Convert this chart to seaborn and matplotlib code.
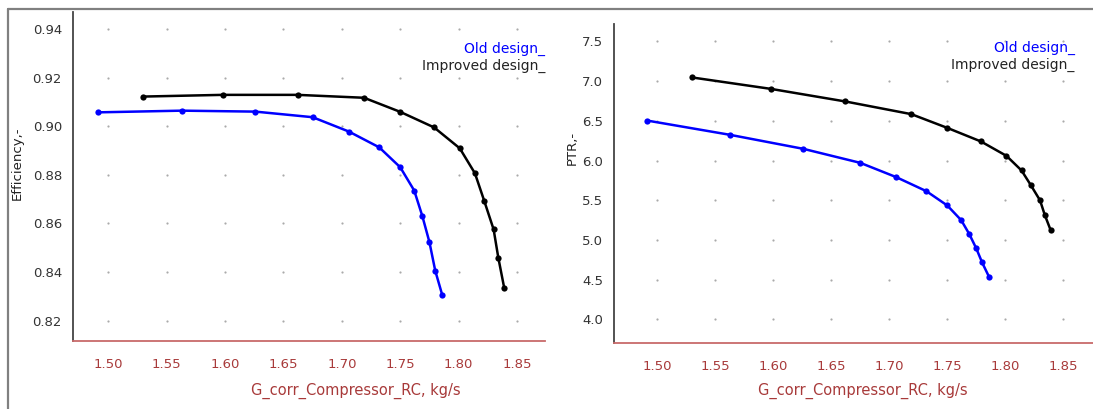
import numpy as np
import pandas as pd
import matplotlib.pyplot as plt
import seaborn as sns
from matplotlib.lines import Line2D

# Mass flow (kg/s) for each operating point
flow_old = [1.491, 1.563, 1.626, 1.675, 1.706, 1.732, 1.750, 1.762, 1.769, 1.775, 1.780, 1.786]
flow_new = [1.530, 1.598, 1.662, 1.719, 1.750, 1.779, 1.801, 1.814, 1.822, 1.830, 1.834, 1.839]

eff_old = [0.9057, 0.9064, 0.9060, 0.9037, 0.8978, 0.8913, 0.8831, 0.8735, 0.8629, 0.8523, 0.8405, 0.8305]
eff_new = [0.9122, 0.9129, 0.9129, 0.9117, 0.9059, 0.8995, 0.8909, 0.8806, 0.8692, 0.8575, 0.8459, 0.8336]

ptr_old = [6.505, 6.324, 6.148, 5.972, 5.792, 5.615, 5.435, 5.250, 5.074, 4.894, 4.718, 4.536]
ptr_new = [7.047, 6.903, 6.745, 6.585, 6.412, 6.241, 6.060, 5.876, 5.691, 5.498, 5.317, 5.128]

designs = ['Old design', 'Improved design']
palette = {'Old design': '#0000ff', 'Improved design': '#000000'}

x_ticks = [1.50, 1.55, 1.60, 1.65, 1.70, 1.75, 1.80, 1.85]
eff_ticks = [0.82, 0.84, 0.86, 0.88, 0.90, 0.92, 0.94]
ptr_ticks = [4.0, 4.5, 5.0, 5.5, 6.0, 6.5, 7.0, 7.5]

df = pd.DataFrame({
    'flow': flow_old + flow_new,
    'eff': eff_old + eff_new,
    'ptr': ptr_old + ptr_new,
    'design': [designs[0]] * len(flow_old) + [designs[1]] * len(flow_new),
})

sns.set_style('white')
plt.rcParams['font.family'] = ['DejaVu Sans']

RED_AX = '#c86a6a'
RED_TXT = '#a83a3a'
GREY_TXT = '#333333'

fig = plt.figure(figsize=(10.93, 4.09), dpi=100)
ax1 = fig.add_axes([73 / 1093, 1 - 341 / 409, 472 / 1093, 329 / 409])
ax2 = fig.add_axes([614 / 1093, 1 - 343.3 / 409, 479 / 1093, 319.3 / 409])


def style_panel(ax, col, yticks, ylim, xlim, ylabel, ylab_pos, xlab_pos, leg_x, leg_y):
    sns.lineplot(data=df, x='flow', y=col, hue='design', palette=palette, sort=False,
                 marker='o', markersize=4.5, markeredgewidth=0, linewidth=1.8,
                 legend=False, ax=ax, zorder=3)
    # dotted grid: one dot at each tick crossing
    gx, gy = np.meshgrid(np.array(x_ticks), np.array(yticks))
    ax.scatter(gx.ravel(), gy.ravel(), s=2.5, color='#aaaaaa', linewidths=0, zorder=1)

    ax.set_xlim(*xlim)
    ax.set_ylim(*ylim)
    ax.set_xticks(x_ticks)
    ax.set_xticklabels([f'{v:.2f}' for v in x_ticks])
    ax.set_yticks(yticks)
    fmt = '{:.2f}' if yticks[0] < 1 else '{:.1f}'
    ax.set_yticklabels([fmt.format(v) for v in yticks])

    for s in ['top', 'right']:
        ax.spines[s].set_visible(False)
    ax.spines['left'].set_color('#444444')
    ax.spines['left'].set_linewidth(1.3)
    ax.spines['bottom'].set_color(RED_AX)
    ax.spines['bottom'].set_linewidth(1.3)

    ax.tick_params(axis='x', colors=RED_AX, labelcolor=RED_TXT, direction='out',
                   length=4, width=1.2, pad=8, labelsize=9.5)
    ax.tick_params(axis='y', colors='#444444', labelcolor=GREY_TXT, direction='out',
                   length=3, width=1.2, pad=5, labelsize=9.5)

    ax.set_xlabel('G_corr_Compressor_RC, kg/s', color=RED_TXT, fontsize=10.5)
    ax.xaxis.set_label_coords(*xlab_pos)
    ax.set_ylabel(ylabel, color='#222222', fontsize=9.5)
    ax.yaxis.set_label_coords(*ylab_pos)

    ax.text(leg_x, leg_y[0], 'Old design_', color=palette['Old design'], fontsize=10,
            ha='right', va='center', transform=ax.transAxes)
    ax.text(leg_x, leg_y[1], 'Improved design_', color='#222222', fontsize=10,
            ha='right', va='center', transform=ax.transAxes)


style_panel(ax1, 'eff', eff_ticks, (0.8116, 0.947), (1.4697, 1.874), 'Efficiency,-',
            (-0.105, 0.54), (0.60, -0.128), 1.0, (0.887, 0.836))
style_panel(ax2, 'ptr', ptr_ticks, (3.70, 7.72), (1.4627, 1.8756), 'PTR,-',
            (-0.074, 0.612), (0.52, -0.124), 0.962, (0.925, 0.872))

# grey frame of the original screenshot
fig.add_artist(Line2D([8 / 1093, 1.0], [1 - 9 / 409, 1 - 9 / 409], color='#808080', lw=1.6,
                      transform=fig.transFigure))
fig.add_artist(Line2D([8 / 1093, 8 / 1093], [0.0, 1 - 9 / 409], color='#808080', lw=1.6,
                      transform=fig.transFigure))

fig.savefig('out.png', dpi=100)
plt.close(fig)
